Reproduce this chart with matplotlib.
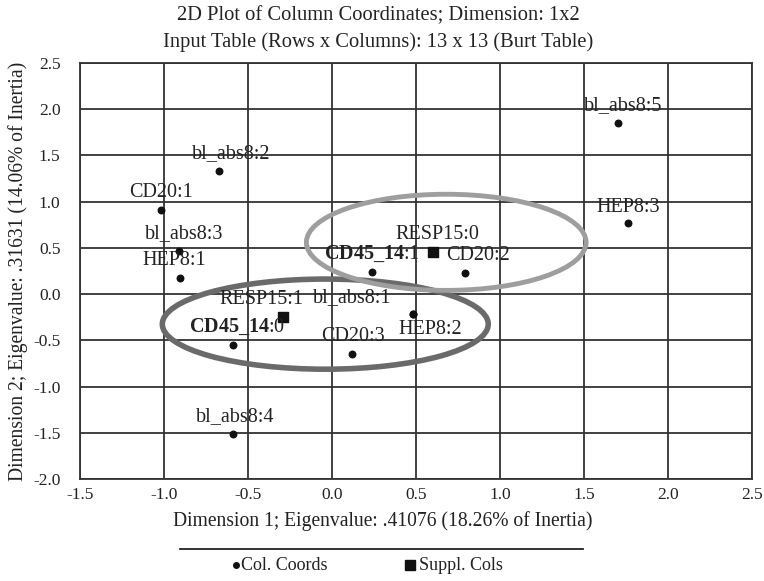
import numpy as np
import matplotlib.pyplot as plt
from matplotlib.patches import Ellipse
from matplotlib.lines import Line2D

plt.rcParams['font.family'] = ['Liberation Serif', 'DejaVu Serif']
plt.rcParams['mathtext.fontset'] = 'custom'
plt.rcParams['mathtext.rm'] = 'Liberation Serif'
plt.rcParams['mathtext.bf'] = 'Liberation Serif:bold'

# column coordinates (dots)
col_labels = ["bl_abs8:5", "HEP8:3", "bl_abs8:2", "CD20:1", "bl_abs8:3", "HEP8:1",
              "CD45_14:1", "CD20:2", "bl_abs8:1", "HEP8:2", "CD45_14:0", "CD20:3",
              "bl_abs8:4"]
col_x = [1.70, 1.76, -0.67, -1.02, -0.91, -0.905, 0.236, 0.79, 0.48, 0.485, -0.587, 0.117, -0.589]
col_y = [1.85, 0.77, 1.33, 0.91, 0.465, 0.175, 0.24, 0.23, -0.21, -0.22, -0.55, -0.65, -1.515]

# supplementary columns (squares)
sup_labels = ["RESP15:0", "RESP15:1"]
sup_x = [0.60, -0.29]
sup_y = [0.45, -0.25]

# label offsets in pixels (dx, dy) relative to the point
col_off = [(6, 8), (1, 6), (12, 8), (0, 8), (5, 8), (-6, 8),
           (0, 8), (13, 8), (-60, 6), (17, -25), (4, 8), (1, 8), (2, 8)]
sup_off = [(5, 8), (-22, 8)]

fig = plt.figure(figsize=(7.64, 5.81), dpi=100)
ax = fig.add_axes([0.1047, 0.1756, 0.8796, 0.716])
ax.set_xlim(-1.5, 2.5)
ax.set_ylim(-2.0, 2.5)
xt = np.arange(-1.5, 2.51, 0.5)
yt = np.arange(-2.0, 2.51, 0.5)
ax.set_xticks(xt)
ax.set_yticks(yt)
ax.set_xticklabels([f"{v:.1f}" for v in xt])
ax.set_yticklabels([f"{v:.1f}" for v in yt])
ax.tick_params(length=0, labelsize=12.5, colors='#222222')
ax.tick_params(axis='x', pad=6)
ax.tick_params(axis='y', pad=14)
ax.grid(True, color='#333333', linewidth=1.3)
for s in ax.spines.values():
    s.set_color('#333333')
    s.set_linewidth(1.3)

ax.add_patch(Ellipse((-0.04, -0.325), 1.94, 0.975, fill=False, edgecolor='#6a6a6a',
                     linewidth=4, zorder=3))
ax.add_patch(Ellipse((0.68, 0.56), 1.665, 1.04, fill=False, edgecolor='#9e9e9e',
                     linewidth=3.5, zorder=3))

ax.scatter(col_x, col_y, s=22, color='#111111', marker='o', zorder=4)
ax.scatter(sup_x, sup_y, s=60, color='#111111', marker='s', zorder=4)


def fmt(lbl):
    if lbl.startswith("CD45_14"):
        return r"$\mathbf{CD45\_14}$" + lbl[7:]
    return lbl


for lbl, x, y, (dx, dy) in zip(col_labels, col_x, col_y, col_off):
    ax.annotate(fmt(lbl), (x, y), xytext=(dx, dy), textcoords='offset pixels',
                ha='center', va='bottom', fontsize=14.5, color='#222222', zorder=5)
for lbl, x, y, (dx, dy) in zip(sup_labels, sup_x, sup_y, sup_off):
    ax.annotate(lbl, (x, y), xytext=(dx, dy), textcoords='offset pixels',
                ha='center', va='bottom', fontsize=14.5, color='#222222', zorder=5)

fig.text(0.495, 0.973, "2D Plot of Column Coordinates; Dimension: 1x2",
         ha='center', va='center', fontsize=14.8, color='#222222')
fig.text(0.495, 0.928, "Input Table (Rows x Columns): 13 x 13 (Burt Table)",
         ha='center', va='center', fontsize=14.8, color='#222222')
fig.text(0.501, 0.103, "Dimension 1; Eigenvalue: .41076 (18.26% of Inertia)",
         ha='center', va='center', fontsize=14.1, color='#222222')
ax.set_ylabel("Dimension 2; Eigenvalue: .31631 (14.06% of Inertia)", fontsize=14.1,
              color='#222222', labelpad=4)

# legend separator line and entries
fig.add_artist(Line2D([0.235, 0.763], [0.055, 0.055], color='#222222', linewidth=1.3))
fig.add_artist(Line2D([0.3085], [0.027], marker='o', markersize=4, color='#111111'))
fig.text(0.315, 0.027, "Col. Coords", ha='left', va='center', fontsize=13, color='#222222')
fig.add_artist(Line2D([0.537], [0.027], marker='s', markersize=7, color='#111111'))
fig.text(0.548, 0.027, "Suppl. Cols", ha='left', va='center', fontsize=13, color='#222222')

fig.savefig("out.png", dpi=100)
